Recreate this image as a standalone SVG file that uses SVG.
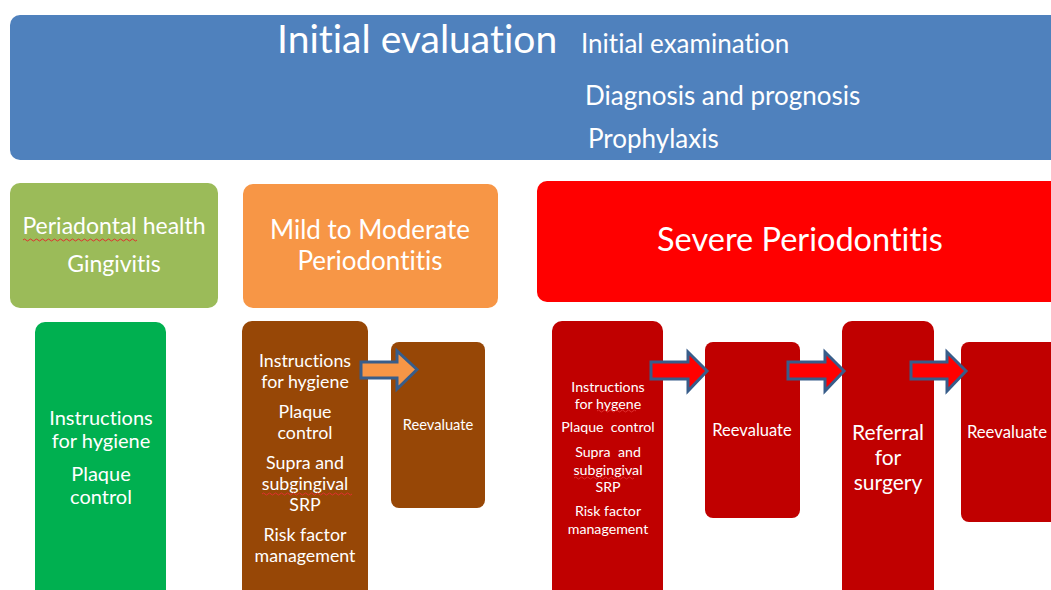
<svg xmlns="http://www.w3.org/2000/svg" width="1051" height="590" viewBox="0 0 1051 590">
<style>
text{font-family:Lato,"Open Sans","Liberation Sans",sans-serif;fill:#ffffff;font-variant-ligatures:none;white-space:pre}
.c{text-anchor:middle}
.arr{stroke:#385d8a;stroke-width:3;stroke-linejoin:miter}
.sq{fill:none;stroke:#e03030;stroke-width:1}
</style>
<rect width="1051" height="590" fill="#ffffff"/>
<g id="initial-evaluation">
<rect x="10" y="15" width="1060" height="145" rx="10" fill="#4f81bd"/>
<text x="277" y="53" font-size="39">Initial evaluation</text>
<text x="581" y="53" font-size="26">Initial examination</text>
<text x="585" y="105" font-size="26">Diagnosis and prognosis</text>
<text x="588" y="148" font-size="26">Prophylaxis</text>
</g>
<g id="health">
<rect x="10" y="183" width="208" height="125" rx="10" fill="#9bbb59"/>
<text class="c" x="114" y="234" font-size="23">Periadontal health</text>
<text class="c" x="114" y="272" font-size="23">Gingivitis</text>
<path class="sq" d="M23 240 q1.5 -2 3 0 t3 0 t3 0 t3 0 t3 0 t3 0 t3 0 t3 0 t3 0 t3 0 t3 0 t3 0 t3 0 t3 0 t3 0 t3 0 t3 0 t3 0 t3 0 t3 0 t3 0 t3 0 t3 0 t3 0 t3 0 t3 0 t3 0 t3 0 t3 0 t3 0 t3 0 t3 0 t3 0 t3 0 t3 0 t3 0 t3 0 t3 0"/>
</g>
<g id="mild">
<rect x="243" y="184" width="255" height="124" rx="10" fill="#f79646"/>
<text class="c" x="370" y="239" font-size="26">Mild to Moderate</text>
<text class="c" x="370" y="270" font-size="26">Periodontitis</text>
</g>
<g id="severe">
<rect x="537" y="181" width="530" height="121" rx="10" fill="#ff0000"/>
<text class="c" x="800" y="251" font-size="32.5">Severe Periodontitis</text>
</g>
<g id="green-steps">
<rect x="35" y="322" width="131" height="290" rx="10" fill="#00b050"/>
<text class="c" x="101" y="425" font-size="20">Instructions</text>
<text class="c" x="101" y="448" font-size="20">for hygiene</text>
<text class="c" x="101" y="481" font-size="20">Plaque</text>
<text class="c" x="101" y="504" font-size="20">control</text>
</g>
<g id="mild-steps">
<rect x="242" y="321" width="126" height="290" rx="10" fill="#974706"/>
<text class="c" x="305" y="367" font-size="17.8">Instructions</text>
<text class="c" x="305" y="388" font-size="17.8">for hygiene</text>
<text class="c" x="305" y="418" font-size="17.8">Plaque</text>
<text class="c" x="305" y="439" font-size="17.8">control</text>
<text class="c" x="305" y="469" font-size="17.8">Supra and</text>
<text class="c" x="305" y="490" font-size="17.8">subgingival</text>
<text class="c" x="305" y="511" font-size="17.8">SRP</text>
<text class="c" x="305" y="541" font-size="17.8">Risk factor</text>
<text class="c" x="305" y="562" font-size="17.8">management</text>
<path class="sq" d="M262 494 q1.5 -2 3 0 t3 0 t3 0 t3 0 t3 0 t3 0 t3 0 t3 0 t3 0 t3 0 t3 0 t3 0 t3 0 t3 0 t3 0 t3 0 t3 0 t3 0 t3 0 t3 0 t3 0 t3 0 t3 0 t3 0 t3 0 t3 0 t3 0 t3 0 t3 0 t3 0"/>
</g>
<g id="mild-reevaluate">
<rect x="391" y="342" width="94" height="166" rx="8" fill="#974706"/>
<text class="c" x="438" y="430" font-size="14.7">Reevaluate</text>
</g>
<g id="severe-steps">
<rect x="552" y="321" width="111" height="290" rx="10" fill="#c00000"/>
<text class="c" x="608" y="392" font-size="14.2">Instructions</text>
<text class="c" x="608" y="409" font-size="14.2">for hygene</text>
<text class="c" x="608" y="432" font-size="14.2">Plaque  control</text>
<text class="c" x="608" y="457" font-size="14.2">Supra  and</text>
<text class="c" x="608" y="475" font-size="14.2">subgingival</text>
<text class="c" x="608" y="492" font-size="14.2">SRP</text>
<text class="c" x="608" y="516" font-size="14.2">Risk factor</text>
<text class="c" x="608" y="534" font-size="14.2">management</text>
<path class="sq" d="M597 411 q1.5 -2 3 0 t3 0 t3 0 t3 0 t3 0 t3 0 t3 0 t3 0 t3 0 t3 0 t3 0 t3 0 t3 0"/>
<path class="sq" d="M574 478 q1.5 -2 3 0 t3 0 t3 0 t3 0 t3 0 t3 0 t3 0 t3 0 t3 0 t3 0 t3 0 t3 0 t3 0 t3 0 t3 0 t3 0 t3 0 t3 0 t3 0 t3 0"/>
</g>
<g id="severe-reevaluate-1">
<rect x="705" y="342" width="95" height="176" rx="8" fill="#c00000"/>
<text class="c" x="752" y="436" font-size="16.5">Reevaluate</text>
</g>
<g id="referral">
<rect x="842" y="321" width="92" height="290" rx="10" fill="#c00000"/>
<text class="c" x="888" y="440" font-size="21">Referral</text>
<text class="c" x="888" y="465" font-size="21">for</text>
<text class="c" x="888" y="490" font-size="21">surgery</text>
</g>
<g id="severe-reevaluate-2">
<rect x="961" y="342" width="110" height="180" rx="8" fill="#c00000"/>
<text class="c" x="1007" y="438" font-size="16.7">Reevaluate</text>
</g>
<g id="connectors">
<path class="arr" fill="#f79646" d="M361 362 H397 V351 L417 369.5 L397 389 V378 H361 Z"/>
<path class="arr" fill="#ff0000" d="M651 362 H688 V352 L707 371 L688 391 V379 H651 Z"/>
<path class="arr" fill="#ff0000" d="M788 362 H825 V352 L844 371 L825 391 V379 H788 Z"/>
<path class="arr" fill="#ff0000" d="M911 362 H947 V352 L966 371 L947 391 V379 H911 Z"/>
</g>
</svg>
